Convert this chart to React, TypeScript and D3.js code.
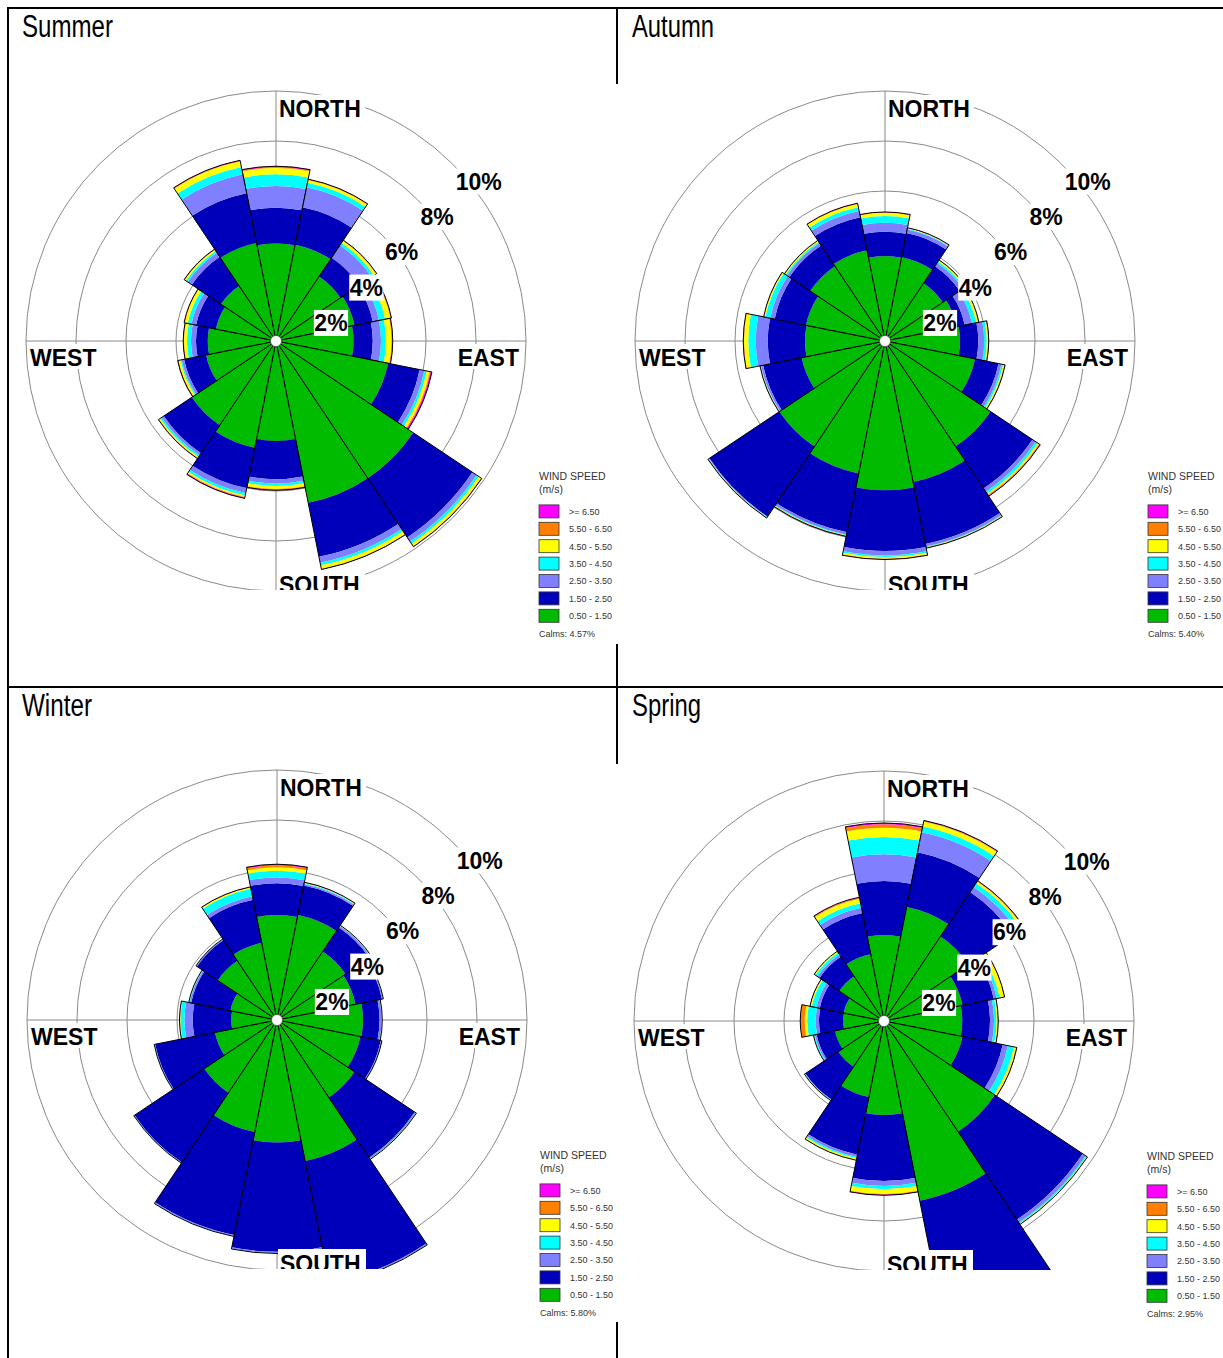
import React from 'react';
import * as d3 from 'd3';

// ---------- data ----------
const DIRECTIONS = ['N', 'NNE', 'NE', 'ENE', 'E', 'ESE', 'SE', 'SSE', 'S', 'SSW', 'SW', 'WSW', 'W', 'WNW', 'NW', 'NNW'];
// speed classes from slowest to fastest
const SPEED_LABELS = ['0.50 - 1.50', '1.50 - 2.50', '2.50 - 3.50', '3.50 - 4.50', '4.50 - 5.50', '5.50 - 6.50', '>= 6.50'];
const SPEED_COLORS = ['#00bb00', '#0000bb', '#8080ff', '#00ffff', '#ffff00', '#ff8000', '#ff00ff'];
const PERCENT_TICKS = [2, 4, 6, 8, 10];
const SEASON_NAMES = ['Summer', 'Autumn', 'Winter', 'Spring'];
const CALMS = [4.57, 5.4, 5.8, 2.95];

// frequency (%) per direction (rows, N clockwise) and speed class (columns)
const SUMMER = [
  [3.90, 1.43, 0.87, 0.47, 0.25, 0.03, 0.04],
  [3.93, 1.52, 0.82, 0.18, 0.12, 0.02, 0.01],
  [3.10, 0.90, 0.60, 0.12, 0.10, 0.02, 0.01],
  [3.20, 0.75, 0.25, 0.25, 0.22, 0.03, 0.01],
  [3.10, 0.77, 0.33, 0.20, 0.22, 0.03, 0.02],
  [4.57, 1.29, 0.19, 0.10, 0.12, 0.03, 0.06],
  [6.60, 2.85, 0.20, 0.10, 0.12, 0.02, 0.01],
  [6.60, 2.20, 0.24, 0.11, 0.14, 0.02, 0.01],
  [4.00, 1.53, 0.17, 0.10, 0.12, 0.03, 0.02],
  [4.35, 1.65, 0.20, 0.10, 0.06, 0.03, 0.03],
  [4.05, 1.35, 0.10, 0.08, 0.05, 0.02, 0.01],
  [2.85, 0.90, 0.10, 0.05, 0.08, 0.02, 0.01],
  [2.73, 0.47, 0.20, 0.16, 0.12, 0.02, 0.01],
  [2.45, 0.81, 0.19, 0.15, 0.12, 0.02, 0.01],
  [2.65, 1.40, 0.20, 0.08, 0.06, 0.02, 0.01],
  [4.00, 2.03, 0.77, 0.30, 0.22, 0.03, 0.02],
];
const AUTUMN = [
  [3.40, 0.97, 0.36, 0.27, 0.13, 0.02, 0.01],
  [3.42, 0.98, 0.15, 0.03, 0.02, 0.01, 0.01],
  [2.78, 0.82, 0.15, 0.08, 0.05, 0.01, 0.01],
  [2.93, 0.32, 0.30, 0.17, 0.09, 0.01, 0.01],
  [3.00, 0.73, 0.24, 0.10, 0.05, 0.02, 0.01],
  [3.67, 0.96, 0.12, 0.07, 0.05, 0.02, 0.01],
  [5.08, 2.02, 0.15, 0.10, 0.06, 0.04, 0.02],
  [5.75, 2.53, 0.10, 0.03, 0.02, 0.01, 0.01],
  [5.97, 2.43, 0.17, 0.07, 0.07, 0.02, 0.01],
  [5.40, 2.40, 0.10, 0.03, 0.02, 0.01, 0.01],
  [5.08, 3.37, 0.02, 0.02, 0.01, 0.01, 0.01],
  [3.40, 1.57, 0.08, 0.02, 0.01, 0.01, 0.01],
  [3.20, 1.49, 0.48, 0.30, 0.17, 0.02, 0.01],
  [3.22, 1.28, 0.18, 0.20, 0.05, 0.01, 0.01],
  [3.60, 1.00, 0.12, 0.06, 0.04, 0.01, 0.01],
  [3.70, 1.35, 0.25, 0.15, 0.14, 0.02, 0.01],
];
const WINTER = [
  [4.20, 1.27, 0.23, 0.27, 0.14, 0.08, 0.04],
  [4.28, 1.21, 0.06, 0.03, 0.02, 0.01, 0.01],
  [3.30, 1.15, 0.07, 0.02, 0.01, 0.01, 0.00],
  [3.20, 1.08, 0.04, 0.01, 0.01, 0.00, 0.00],
  [3.44, 0.66, 0.08, 0.02, 0.01, 0.00, 0.00],
  [3.40, 0.83, 0.04, 0.01, 0.00, 0.00, 0.00],
  [3.73, 2.90, 0.05, 0.02, 0.01, 0.00, 0.00],
  [5.75, 5.00, 0.05, 0.01, 0.01, 0.00, 0.00],
  [4.90, 4.37, 0.05, 0.01, 0.01, 0.00, 0.00],
  [4.57, 4.20, 0.05, 0.01, 0.00, 0.00, 0.00],
  [3.50, 3.35, 0.03, 0.01, 0.00, 0.00, 0.00],
  [2.53, 2.44, 0.03, 0.01, 0.00, 0.00, 0.00],
  [1.83, 1.54, 0.33, 0.16, 0.02, 0.01, 0.01],
  [1.90, 1.60, 0.06, 0.03, 0.01, 0.00, 0.00],
  [2.85, 1.00, 0.04, 0.01, 0.00, 0.00, 0.00],
  [3.14, 1.76, 0.15, 0.30, 0.05, 0.02, 0.01],
];
const SPRING = [
  [3.44, 2.16, 1.07, 0.69, 0.37, 0.14, 0.05],
  [4.65, 2.23, 0.82, 0.23, 0.20, 0.03, 0.02],
  [4.07, 2.13, 0.25, 0.18, 0.08, 0.03, 0.01],
  [3.20, 1.28, 0.12, 0.12, 0.18, 0.01, 0.01],
  [3.13, 1.11, 0.16, 0.10, 0.05, 0.01, 0.01],
  [3.20, 1.64, 0.21, 0.25, 0.09, 0.02, 0.01],
  [5.33, 4.23, 0.14, 0.05, 0.03, 0.01, 0.00],
  [7.33, 4.97, 0.15, 0.05, 0.05, 0.00, 0.00],
  [3.76, 2.64, 0.20, 0.13, 0.19, 0.03, 0.02],
  [3.10, 2.35, 0.10, 0.05, 0.07, 0.01, 0.00],
  [2.20, 1.58, 0.02, 0.02, 0.01, 0.00, 0.00],
  [2.00, 0.75, 0.07, 0.04, 0.01, 0.01, 0.00],
  [1.63, 0.97, 0.13, 0.34, 0.10, 0.16, 0.02],
  [1.65, 0.97, 0.13, 0.20, 0.05, 0.01, 0.01],
  [2.15, 0.95, 0.10, 0.10, 0.05, 0.01, 0.00],
  [2.72, 1.68, 0.22, 0.18, 0.19, 0.04, 0.02],
];
const SEASON_DATA = [SUMMER, AUTUMN, WINTER, SPRING];

// ---------- layout ----------
const PANELS = [
  { cx: 276, cy: 341, tx: 22, ty: 37, tLen: 91 },
  { cx: 885, cy: 341, tx: 632, ty: 37, tLen: 82 },
  { cx: 277, cy: 1020, tx: 22, ty: 716, tLen: 70 },
  { cx: 884, cy: 1021, tx: 632, ty: 716, tLen: 69 },
];
const R_MAX = 250;
const FONT = "'Liberation Sans', Arial, Helvetica, sans-serif";
const TITLE_FONT = "'Liberation Sans Narrow', 'Arial Narrow', " + FONT;

function Rose({ idx }: { idx: number }) {
  const { cx, cy, tx, ty, tLen } = PANELS[idx];
  const data = SEASON_DATA[idx];
  const r = d3.scaleLinear().domain([0, 10]).range([0, R_MAX]);
  const step = (2 * Math.PI) / DIRECTIONS.length;
  const arc = d3.arc<any>();
  const clipId = `clip-${idx}`;

  const wedges = DIRECTIONS.map((d, i) => {
    const start = i * step - step / 2;
    const end = i * step + step / 2;
    let cum = 0;
    const segs = data[i].map((v, k) => {
      const inner = cum;
      cum += v;
      return { k, path: arc({ innerRadius: r(inner), outerRadius: r(cum), startAngle: start, endAngle: end }) as string };
    });
    const outline = arc({ innerRadius: 0, outerRadius: r(cum), startAngle: start, endAngle: end }) as string;
    return { d, segs, outline };
  });

  const pctW = (t: number) => (String(t).length * 0.556 + 0.889) * 23;
  const lx = cx + 263;
  const ly = cy + 135;
  const legendRows = SPEED_LABELS.map((l, k) => ({ l, c: SPEED_COLORS[k] })).reverse();

  return (
    <g>
      <text x={tx} y={ty} fontFamily={TITLE_FONT} fontSize={31}
        textLength={tLen} lengthAdjust="spacingAndGlyphs" fill="#000">{SEASON_NAMES[idx]}</text>
      <defs>
        <clipPath id={clipId}>
          <rect x={cx - 256} y={cy - 256} width={512} height={256 + 249} />
        </clipPath>
      </defs>
      <g clipPath={`url(#${clipId})`}>
        <g transform={`translate(${cx},${cy})`}>
          {PERCENT_TICKS.map((t) => (
            <circle key={t} r={r(t)} fill="none" stroke="#8a8a8a" strokeWidth={1} />
          ))}
          <line x1={0} y1={-R_MAX} x2={0} y2={R_MAX} stroke="#8a8a8a" strokeWidth={1} />
          <line x1={-R_MAX} y1={0} x2={R_MAX} y2={0} stroke="#8a8a8a" strokeWidth={1} />
          {wedges.map((w) => (
            <g key={w.d}>
              {w.segs.map((s) => (
                <path key={s.k} d={s.path} fill={SPEED_COLORS[s.k]} stroke="none" />
              ))}
              <path d={w.outline} fill="none" stroke="#000" strokeWidth={1} strokeLinejoin="miter" />
            </g>
          ))}
          <circle r={5.5} fill="#fff" stroke="#444" strokeWidth={0.6} />
          {PERCENT_TICKS.map((t) => {
            const p = r(t) * Math.SQRT1_2;
            return (
              <g key={t}>
                <rect x={p + 2.5} y={-p + 4.3} width={pctW(t) + 1} height={26} fill="#fff" />
                <text x={p + 3} y={-p + 25.5} fontFamily={FONT} fontWeight="bold" fontSize={23} fill="#000">{t}%</text>
              </g>
            );
          })}
          <rect x={1} y={-246} width={88} height={26} fill="#fff" />
          <text x={3} y={-224} fontFamily={FONT} fontWeight="bold" fontSize={23}>NORTH</text>
          <rect x={1} y={229} width={88} height={26} fill="#fff" />
          <text x={3} y={252} fontFamily={FONT} fontWeight="bold" fontSize={23}>SOUTH</text>
          <rect x={-248} y={3} width={72} height={25} fill="#fff" />
          <text x={-246} y={25} fontFamily={FONT} fontWeight="bold" fontSize={23}>WEST</text>
          <rect x={177} y={3} width={68} height={25} fill="#fff" />
          <text x={243} y={25} textAnchor="end" fontFamily={FONT} fontWeight="bold" fontSize={23}>EAST</text>
        </g>
      </g>
      <g fontFamily={FONT} fill="#333">
        <text x={lx} y={ly + 4} fontSize={10.5}>WIND SPEED</text>
        <text x={lx} y={ly + 17} fontSize={10.5}>(m/s)</text>
        {legendRows.map((row, i) => {
          const yc = ly + 35.4 + 17.4 * i;
          return (
            <g key={row.l}>
              <rect x={lx} y={yc - 6.5} width={20} height={13} fill={row.c} stroke="#333" strokeWidth={0.8} />
              <text x={lx + 30} y={yc + 3.3} fontSize={9}>{row.l}</text>
            </g>
          );
        })}
        <text x={lx} y={ly + 161} fontSize={9}>{`Calms: ${CALMS[idx].toFixed(2)}%`}</text>
      </g>
    </g>
  );
}

export default function App() {
  return (
    <svg width={1223} height={1358} style={{ position: 'absolute', left: 0, top: 0, display: 'block', background: '#fff' }}>
      <rect x={0} y={0} width={1223} height={1358} fill="#fff" />
      {SEASON_NAMES.map((_, i) => (
        <Rose key={i} idx={i} />
      ))}
      <g stroke="#000" strokeWidth={2}>
        <line x1={8} y1={8} x2={1223} y2={8} />
        <line x1={8} y1={7} x2={8} y2={1358} />
        <line x1={8} y1={687} x2={1223} y2={687} />
        <line x1={617} y1={8} x2={617} y2={84} />
        <line x1={617} y1={644} x2={617} y2={764} />
        <line x1={617} y1={1322} x2={617} y2={1358} />
      </g>
    </svg>
  );
}
